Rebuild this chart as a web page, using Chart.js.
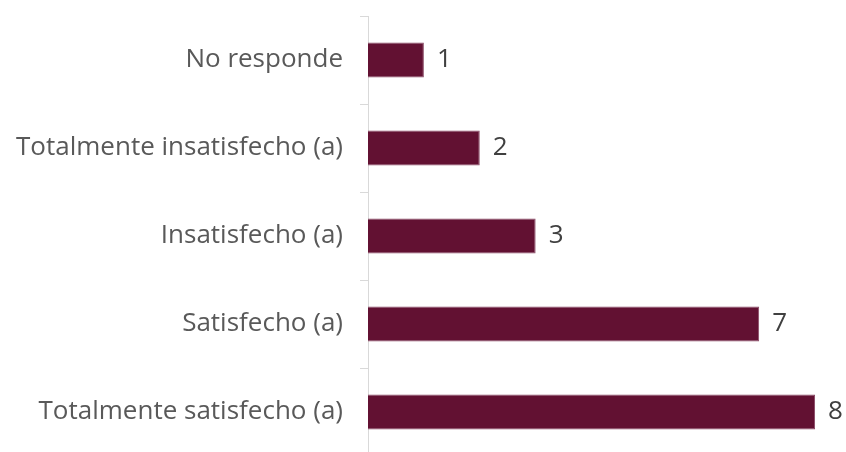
<!DOCTYPE html>
<html>
<head>
<meta charset="utf-8">
<script src="https://cdn.jsdelivr.net/npm/chart.js@4/dist/chart.umd.min.js"></script>
<style>
  html, body { margin: 0; padding: 0; background: #fff; overflow: hidden; }
  #wrap { width: 846px; height: 456px; position: relative; }
</style>
</head>
<body>
<div id="wrap"><canvas id="myChart"></canvas></div>
<script>
const categories = ['No responde', 'Totalmente insatisfecho (a)', 'Insatisfecho (a)', 'Satisfecho (a)', 'Totalmente satisfecho (a)'];
const values = [1, 2, 3, 7, 8];

// draw the value at the end of each bar
const barLabels = {
  id: 'barLabels',
  afterDatasetsDraw(chart) {
    const ctx = chart.ctx;
    const meta = chart.getDatasetMeta(0);
    ctx.save();
    ctx.font = '26px "Open Sans"';
    ctx.fillStyle = '#404040';
    ctx.textAlign = 'left';
    ctx.textBaseline = 'middle';
    meta.data.forEach(function(bar, i) {
      ctx.fillText(values[i], bar.x + 13, bar.y);
    });
    ctx.restore();
  }
};

const ctx = document.getElementById('myChart');

new Chart(ctx, {
  type: 'bar',
  data: {
    labels: categories,
    datasets: [{
      data: values,
      backgroundColor: '#621132',
      borderColor: '#8a4a66',
      borderWidth: 1,
      categoryPercentage: 1,
      barPercentage: 0.4
    }]
  },
  options: {
    indexAxis: 'y',
    responsive: true,
    maintainAspectRatio: false,
    animation: false,
    layout: { padding: { top: 16, right: 3, bottom: 0, left: 0 } },
    plugins: {
      legend: { display: false },
      tooltip: { enabled: false }
    },
    scales: {
      x: {
        display: false,
        min: 0,
        max: 8.5
      },
      y: {
        afterFit(scale) {
          scale.width = 368;
          scale.paddingTop = 0;
          scale.paddingBottom = 0;
        },
        grid: {
          drawOnChartArea: false,
          tickLength: 8,
          color: '#d9d9d9'
        },
        border: { color: '#d9d9d9', width: 1 },
        ticks: {
          color: '#595959',
          padding: 17,
          font: { family: 'Open Sans', size: 26 }
        }
      }
    }
  },
  plugins: [barLabels]
});
</script>
</body>
</html>
